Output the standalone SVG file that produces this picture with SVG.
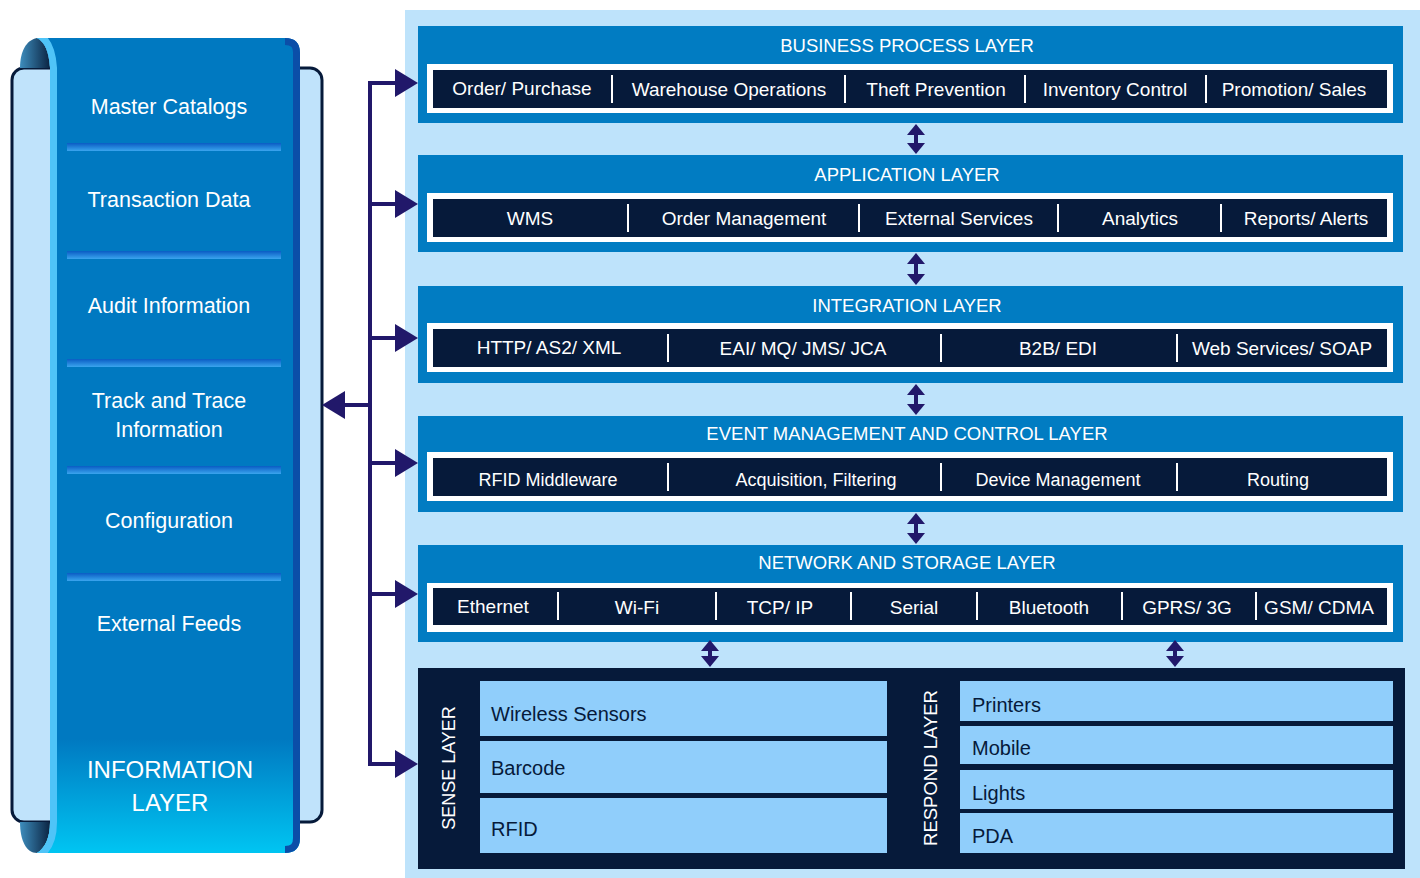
<svg xmlns="http://www.w3.org/2000/svg" width="1420" height="878" viewBox="0 0 1420 878">
<defs>
<style>
.t{font-family:"Liberation Sans",Arial,sans-serif;}
.title{font-size:18.5px;fill:#ffffff;text-anchor:middle;}
.item{font-size:19px;fill:#ffffff;text-anchor:middle;}
.ev{font-size:18px;fill:#ffffff;text-anchor:middle;}
.left{font-size:21.5px;fill:#ffffff;text-anchor:middle;}
.dev{font-size:20px;fill:#061a3a;}
.bar{fill:#017cc2;}
.white{fill:#ffffff;}
.dark{fill:#061a3a;}
.sep{stroke:#ffffff;stroke-width:2;}
.conn{stroke:#21186a;stroke-width:4;fill:none;}
.dbl{stroke:#21186a;stroke-width:4;fill:none;}
.lite{fill:#90cefb;}
</style>
<marker id="ah" markerUnits="userSpaceOnUse" viewBox="0 0 23 28" refX="3" refY="14" markerWidth="23" markerHeight="28" orient="auto">
<path d="M0,0 L23,14 L0,28 Z" fill="#21186a"/>
</marker>
<marker id="dh" markerUnits="userSpaceOnUse" viewBox="0 0 11 18" refX="2" refY="9" markerWidth="11" markerHeight="18" orient="auto-start-reverse">
<path d="M0,0 L11,9 L0,18 Z" fill="#21186a"/>
</marker>
<linearGradient id="curl" x1="0" y1="0" x2="1" y2="0">
<stop offset="0" stop-color="#3d8dbd"/>
<stop offset="1" stop-color="#0b2442"/>
</linearGradient>
<linearGradient id="body" x1="0" y1="0" x2="0" y2="1">
<stop offset="0" stop-color="#0079c1"/>
<stop offset="0.86" stop-color="#0079c1"/>
<stop offset="1" stop-color="#00c5f2"/>
</linearGradient>
<linearGradient id="div" x1="0" y1="0" x2="0" y2="1">
<stop offset="0" stop-color="#0a5cc4"/>
<stop offset="1" stop-color="#3aa5ee"/>
</linearGradient>
<clipPath id="bodyclip">
<path d="M37,38 L285,38 Q300,38 300,53 L300,838 Q300,853 285,853 L37,853 C45,848 50,838 50,822 L50,68 C49,52 45,42 37,38 Z"/>
</clipPath>
</defs>

<rect x="405" y="10" width="1015" height="868" fill="#bee3fb"/>

<g id="information-layer">
<rect x="12" y="68" width="310" height="754" rx="12" fill="#c0e3fb" stroke="#061a3a" stroke-width="3"/>
<path d="M37,38 C26,40 20,52 20,68 L50,68 C49,52 45,42 37,38 Z" fill="url(#curl)"/>
<path d="M20,822 C20,840 26,853 37,853 C45,848 50,838 50,822 Z" fill="url(#curl)"/>
<path d="M37,38 L285,38 Q300,38 300,53 L300,838 Q300,853 285,853 L37,853 C45,848 50,838 50,822 L50,68 C49,52 45,42 37,38 Z" fill="url(#body)"/>
<g clip-path="url(#bodyclip)">
<path d="M37,38 C45,42 49,52 50,68 L50,822 C50,838 45,848 37,853" stroke="#4fc4f8" stroke-width="14" fill="none"/>
<path d="M285,38 Q300,38 300,53 L300,838 Q300,853 285,853" stroke="#0b4ea8" stroke-width="14" fill="none"/>
</g>
<rect x="67" y="143" width="214" height="8" fill="url(#div)"/>
<rect x="67" y="251" width="214" height="8" fill="url(#div)"/>
<rect x="67" y="359" width="214" height="8" fill="url(#div)"/>
<rect x="67" y="466" width="214" height="8" fill="url(#div)"/>
<rect x="67" y="573" width="214" height="8" fill="url(#div)"/>
<text class="t left" x="169" y="114">Master Catalogs</text>
<text class="t left" x="169" y="207">Transaction Data</text>
<text class="t left" x="169" y="313">Audit Information</text>
<text class="t left" x="169" y="408">Track and Trace</text>
<text class="t left" x="169" y="437">Information</text>
<text class="t left" x="169" y="528">Configuration</text>
<text class="t left" x="169" y="631">External Feeds</text>
<text class="t left" x="170" y="778" style="font-size:24px">INFORMATION</text>
<text class="t left" x="170" y="811" style="font-size:24px">LAYER</text>
</g>

<g id="business-process-layer">
<rect class="bar" x="418" y="26" width="985" height="97"/>
<rect class="white" x="427" y="64" width="966" height="49"/>
<rect class="dark" x="433" y="70" width="954" height="38"/>
<text class="t title" x="907" y="52">BUSINESS PROCESS LAYER</text>
<line class="sep" x1="612" y1="75" x2="612" y2="103"/>
<line class="sep" x1="845" y1="75" x2="845" y2="103"/>
<line class="sep" x1="1025" y1="75" x2="1025" y2="103"/>
<line class="sep" x1="1206" y1="75" x2="1206" y2="103"/>
<text class="t item" x="522" y="95">Order/ Purchase</text>
<text class="t item" x="729" y="96">Warehouse Operations</text>
<text class="t item" x="936" y="96">Theft Prevention</text>
<text class="t item" x="1115" y="96">Inventory Control</text>
<text class="t item" x="1294" y="96">Promotion/ Sales</text>
</g>

<g id="application-layer">
<rect class="bar" x="418" y="155" width="985" height="97"/>
<rect class="white" x="427" y="193" width="966" height="49"/>
<rect class="dark" x="433" y="199" width="954" height="38"/>
<text class="t title" x="907" y="181">APPLICATION LAYER</text>
<line class="sep" x1="628" y1="204" x2="628" y2="232"/>
<line class="sep" x1="859" y1="204" x2="859" y2="232"/>
<line class="sep" x1="1058" y1="204" x2="1058" y2="232"/>
<line class="sep" x1="1221" y1="204" x2="1221" y2="232"/>
<text class="t item" x="530" y="225">WMS</text>
<text class="t item" x="744" y="225">Order Management</text>
<text class="t item" x="959" y="225">External Services</text>
<text class="t item" x="1140" y="225">Analytics</text>
<text class="t item" x="1306" y="225">Reports/ Alerts</text>
</g>

<g id="integration-layer">
<rect class="bar" x="418" y="286" width="985" height="97"/>
<rect class="white" x="427" y="323" width="966" height="49"/>
<rect class="dark" x="433" y="329" width="954" height="38"/>
<text class="t title" x="907" y="312">INTEGRATION LAYER</text>
<line class="sep" x1="668" y1="334" x2="668" y2="362"/>
<line class="sep" x1="941" y1="334" x2="941" y2="362"/>
<line class="sep" x1="1177" y1="334" x2="1177" y2="362"/>
<text class="t item" x="549" y="354">HTTP/ AS2/ XML</text>
<text class="t item" x="803" y="355">EAI/ MQ/ JMS/ JCA</text>
<text class="t item" x="1058" y="355">B2B/ EDI</text>
<text class="t item" x="1282" y="355">Web Services/ SOAP</text>
</g>

<g id="event-management-layer">
<rect class="bar" x="418" y="416" width="985" height="96"/>
<rect class="white" x="427" y="452" width="966" height="49"/>
<rect class="dark" x="433" y="458" width="954" height="38"/>
<text class="t title" x="907" y="440">EVENT MANAGEMENT AND CONTROL LAYER</text>
<line class="sep" x1="668" y1="463" x2="668" y2="491"/>
<line class="sep" x1="941" y1="463" x2="941" y2="491"/>
<line class="sep" x1="1177" y1="463" x2="1177" y2="491"/>
<text class="t ev" x="548" y="486">RFID Middleware</text>
<text class="t ev" x="816" y="486">Acquisition, Filtering</text>
<text class="t ev" x="1058" y="486">Device Management</text>
<text class="t ev" x="1278" y="486">Routing</text>
</g>

<g id="network-storage-layer">
<rect class="bar" x="418" y="545" width="985" height="97"/>
<rect class="white" x="427" y="583" width="966" height="49"/>
<rect class="dark" x="433" y="588" width="954" height="37"/>
<text class="t title" x="907" y="569">NETWORK AND STORAGE LAYER</text>
<line class="sep" x1="558" y1="592" x2="558" y2="620"/>
<line class="sep" x1="716" y1="592" x2="716" y2="620"/>
<line class="sep" x1="851" y1="592" x2="851" y2="620"/>
<line class="sep" x1="977" y1="592" x2="977" y2="620"/>
<line class="sep" x1="1122" y1="592" x2="1122" y2="620"/>
<line class="sep" x1="1256" y1="592" x2="1256" y2="620"/>
<text class="t item" x="493" y="613">Ethernet</text>
<text class="t item" x="637" y="614">Wi-Fi</text>
<text class="t item" x="780" y="614">TCP/ IP</text>
<text class="t item" x="914" y="614">Serial</text>
<text class="t item" x="1049" y="614">Bluetooth</text>
<text class="t item" x="1187" y="614">GPRS/ 3G</text>
<text class="t item" x="1319" y="614">GSM/ CDMA</text>
</g>

<g id="sense-respond-layer">
<rect class="dark" x="418" y="668" width="987" height="201"/>
<g id="sense-layer">
<text class="t" x="0" y="0" transform="translate(455,768) rotate(-90)" style="font-size:18px;fill:#ffffff;text-anchor:middle">SENSE LAYER</text>
<rect class="lite" x="480" y="681" width="407" height="55"/>
<rect class="lite" x="480" y="741" width="407" height="52"/>
<rect class="lite" x="480" y="798" width="407" height="55"/>
<text class="t dev" x="491" y="721">Wireless Sensors</text>
<text class="t dev" x="491" y="775">Barcode</text>
<text class="t dev" x="491" y="836">RFID</text>
</g>
<g id="respond-layer">
<text class="t" x="0" y="0" transform="translate(937,768) rotate(-90)" style="font-size:18.5px;fill:#ffffff;text-anchor:middle">RESPOND LAYER</text>
<rect class="lite" x="960" y="681" width="433" height="40"/>
<rect class="lite" x="960" y="726" width="433" height="38"/>
<rect class="lite" x="960" y="770" width="433" height="39"/>
<rect class="lite" x="960" y="813" width="433" height="40"/>
<text class="t dev" x="972" y="712">Printers</text>
<text class="t dev" x="972" y="755">Mobile</text>
<text class="t dev" x="972" y="800">Lights</text>
<text class="t dev" x="972" y="843">PDA</text>
</g>
</g>

<g id="connectors">
<line class="conn" x1="370" y1="81" x2="370" y2="766"/>
<line class="conn" x1="368" y1="83" x2="398" y2="83" marker-end="url(#ah)"/>
<line class="conn" x1="368" y1="204" x2="398" y2="204" marker-end="url(#ah)"/>
<line class="conn" x1="368" y1="338" x2="398" y2="338" marker-end="url(#ah)"/>
<line class="conn" x1="368" y1="463" x2="398" y2="463" marker-end="url(#ah)"/>
<line class="conn" x1="368" y1="594" x2="398" y2="594" marker-end="url(#ah)"/>
<line class="conn" x1="368" y1="764" x2="398" y2="764" marker-end="url(#ah)"/>
<line class="conn" x1="372" y1="405" x2="342" y2="405" marker-end="url(#ah)"/>
<line class="dbl" x1="916" y1="133" x2="916" y2="145" marker-start="url(#dh)" marker-end="url(#dh)"/>
<line class="dbl" x1="916" y1="262" x2="916" y2="276" marker-start="url(#dh)" marker-end="url(#dh)"/>
<line class="dbl" x1="916" y1="393" x2="916" y2="406" marker-start="url(#dh)" marker-end="url(#dh)"/>
<line class="dbl" x1="916" y1="522" x2="916" y2="535" marker-start="url(#dh)" marker-end="url(#dh)"/>
<line class="dbl" x1="710" y1="649" x2="710" y2="658" marker-start="url(#dh)" marker-end="url(#dh)"/>
<line class="dbl" x1="1175" y1="649" x2="1175" y2="658" marker-start="url(#dh)" marker-end="url(#dh)"/>
</g>
</svg>
